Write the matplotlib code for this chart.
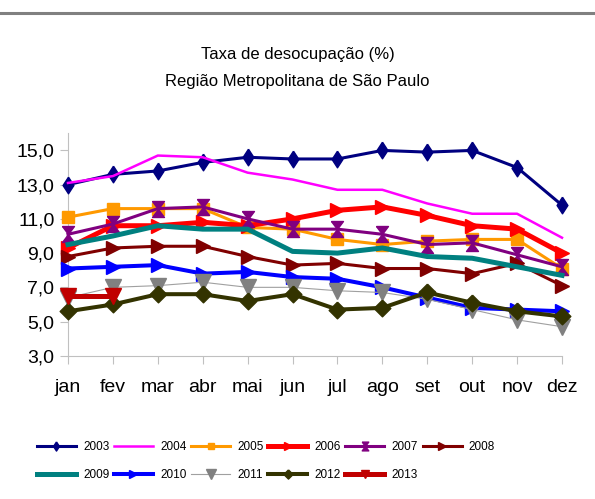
"""
Taxa de desocupação mensal, Região Metropolitana de São Paulo, 2003-2013.
"""
import matplotlib
matplotlib.use("Agg")
import matplotlib.pyplot as plt
from matplotlib.lines import Line2D

plt.rcParams["font.family"] = ["Liberation Sans", "DejaVu Sans"]

months = ["jan", "fev", "mar", "abr", "mai", "jun", "jul", "ago", "set", "out", "nov", "dez"]

y2003 = [13.0, 13.6, 13.8, 14.3, 14.6, 14.5, 14.5, 15.0, 14.9, 15.0, 14.0, 11.8]
y2004 = [13.1, 13.5, 14.7, 14.6, 13.7, 13.3, 12.7, 12.7, 11.9, 11.3, 11.3, 9.9]
y2005 = [11.1, 11.6, 11.6, 11.6, 10.5, 10.4, 9.8, 9.5, 9.7, 9.8, 9.8, 8.1]
y2006 = [9.3, 10.6, 10.6, 10.8, 10.6, 11.0, 11.5, 11.7, 11.2, 10.6, 10.4, 9.0]
y2007 = [10.1, 10.7, 11.6, 11.7, 11.0, 10.4, 10.4, 10.1, 9.5, 9.6, 8.9, 8.2]
y2008 = [8.8, 9.3, 9.4, 9.4, 8.8, 8.3, 8.4, 8.1, 8.1, 7.8, 8.4, 7.1]
y2009 = [9.5, 10.0, 10.6, 10.4, 10.4, 9.1, 9.0, 9.3, 8.8, 8.7, 8.2, 7.7]
y2010 = [8.1, 8.2, 8.3, 7.8, 7.9, 7.6, 7.5, 7.0, 6.4, 5.8, 5.7, 5.6]
y2011 = [6.4, 7.0, 7.1, 7.3, 7.0, 7.0, 6.8, 6.7, 6.3, 5.7, 5.1, 4.7]
y2012 = [5.6, 6.0, 6.6, 6.6, 6.2, 6.6, 5.7, 5.8, 6.7, 6.1, 5.6, 5.3]
y2013 = [6.5, 6.5]

diamond_tall = [(0, 1), (0.65, 0), (0, -1), (-0.65, 0), (0, 1)]
diamond = [(0, 1), (1, 0), (0, -1), (-1, 0), (0, 1)]
hourglass = [(-0.75, 1), (0.75, 1), (-0.75, -1), (0.75, -1), (-0.75, 1)]

# label, values, line colour, marker colour, line width, marker, marker size
series = [
    ("2003", y2003, "#000080", "#000080", 2.2, diamond_tall, 12),
    ("2004", y2004, "#FF00FF", "#FF00FF", 1.8, None, 0),
    ("2005", y2005, "#FF9900", "#FF9900", 2.2, "s", 8),
    ("2006", y2006, "#FF0000", "#FF0000", 3.6, ">", 10.5),
    ("2007", y2007, "#800080", "#800080", 2.2, hourglass, 11.5),
    ("2008", y2008, "#800000", "#800000", 2.2, ">", 9.5),
    ("2009", y2009, "#008080", "#008080", 3.6, None, 0),
    ("2010", y2010, "#0000FF", "#0000FF", 2.9, ">", 10),
    ("2011", y2011, "#A0A0A0", "#808080", 0.8, "v", 12),
    ("2012", y2012, "#333300", "#333300", 2.9, diamond, 12),
    ("2013", y2013, "#C00000", "#C00000", 3.6, "v", 11),
]

fig = plt.figure(figsize=(5.95, 4.99), dpi=100)
ax = fig.add_axes([68 / 595, (499 - 355.8) / 499, (562 - 68) / 595, (355.8 - 133.3) / 499])

handles = []
for i, (lab, vals, lc, mc, lw, mk, ms) in enumerate(series):
    x = list(range(len(vals)))
    ax.plot(x, vals, color=lc, lw=lw, marker=mk, markersize=ms,
            markerfacecolor=mc, markeredgecolor=mc, clip_on=False, zorder=3 + i)
    handles.append(Line2D([], [], color=lc, lw=lw, marker=mk, markersize=ms * 0.55,
                          markerfacecolor=mc, markeredgecolor=mc))

ax.set_xlim(0, 11)
ax.set_ylim(3, 16)
ax.set_xticks(range(12))
ax.set_xticklabels(months)
yt = [3, 5, 7, 9, 11, 13, 15]
ax.set_yticks(yt)
ax.set_yticklabels([f"{v:.1f}".replace(".", ",") for v in yt])

for s in ["top", "right"]:
    ax.spines[s].set_visible(False)
for s in ["left", "bottom"]:
    ax.spines[s].set_color("#c0c0c0")
    ax.spines[s].set_linewidth(0.8)
ax.tick_params(axis="both", direction="out", length=5.8, width=0.8, color="#c0c0c0",
               labelsize=14, labelcolor="black")
ax.tick_params(axis="y", pad=4)
ax.tick_params(axis="x", pad=11)

fig.text(0.5, 1 - 54 / 499, "Taxa de desocupação (%)", ha="center", va="center", fontsize=12)
fig.text(0.5, 1 - 82 / 499, "Região Metropolitana de São Paulo", ha="center", va="center", fontsize=12)

fig.add_artist(Line2D([0, 1], [1 - 12.5 / 499, 1 - 12.5 / 499], color="#808080", lw=2.2,
                      transform=fig.transFigure))

# legend is filled column by column, so interleave the two rows
order = [0, 6, 1, 7, 2, 8, 3, 9, 4, 10, 5]
fig.legend([handles[i] for i in order], [series[i][0] for i in order],
           loc="upper left", bbox_to_anchor=(37 / 595, 1 - 441 / 499), ncol=6,
           frameon=False, fontsize=8.5, handlelength=3.3, handletextpad=0.6,
           columnspacing=0.4, labelspacing=1.35, borderpad=0, borderaxespad=0)

fig.savefig("out.png", dpi=100)
